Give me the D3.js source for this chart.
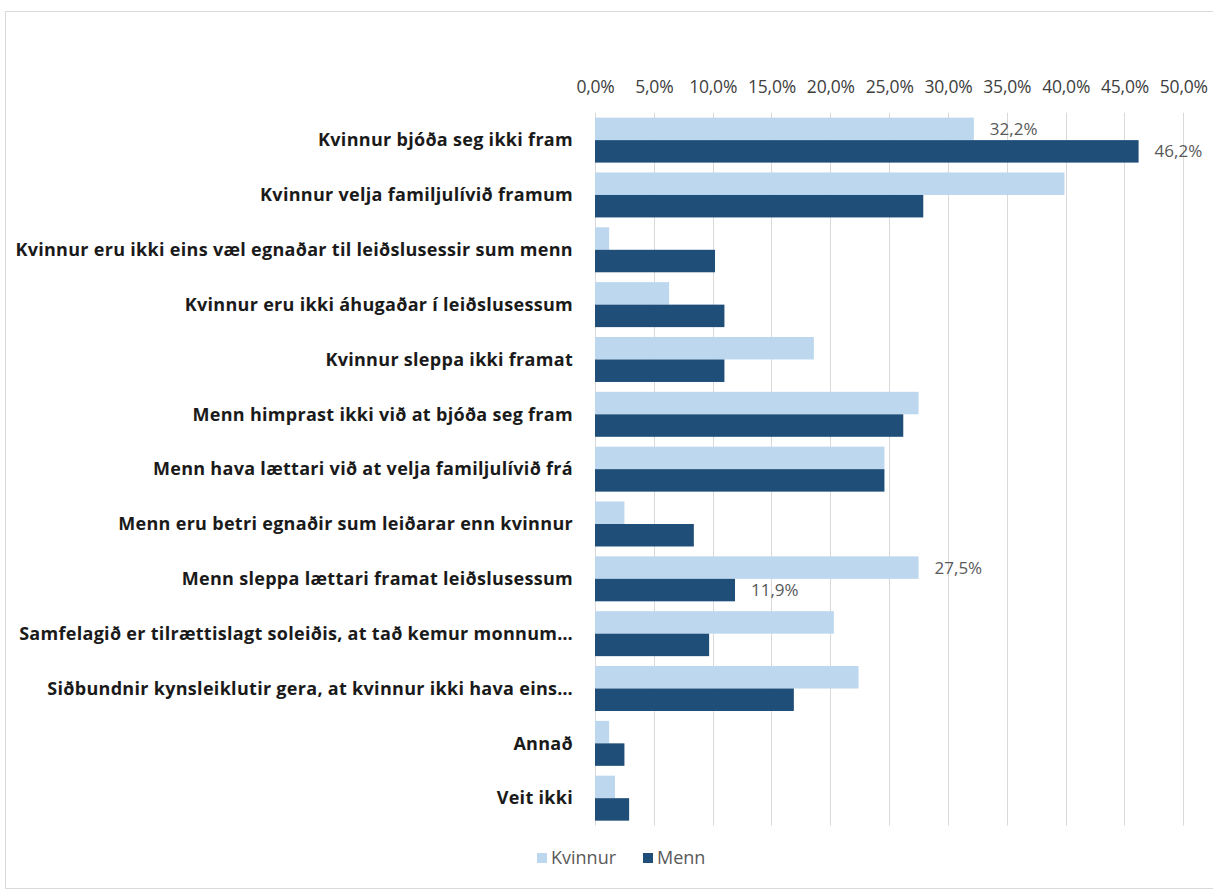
<!DOCTYPE html>
<html>
<head>
<meta charset="utf-8">
<script src="https://cdn.jsdelivr.net/npm/d3@7"></script>
<style>
  html, body { margin: 0; padding: 0; background: #fff; }
  svg { display: block; }
</style>
</head>
<body>
<svg id="chart" width="1213" height="891"></svg>
<script>
const categories = [
  "Kvinnur bjóða seg ikki fram",
  "Kvinnur velja familjulívið framum",
  "Kvinnur eru ikki eins væl egnaðar til leiðslusessir sum menn",
  "Kvinnur eru ikki áhugaðar í leiðslusessum",
  "Kvinnur sleppa ikki framat",
  "Menn himprast ikki við at bjóða seg fram",
  "Menn hava lættari við at velja familjulívið frá",
  "Menn eru betri egnaðir sum leiðarar enn kvinnur",
  "Menn sleppa lættari framat leiðslusessum",
  "Samfelagið er tilrættislagt soleiðis, at tað kemur monnum…",
  "Siðbundnir kynsleiklutir gera, at kvinnur ikki hava eins…",
  "Annað",
  "Veit ikki"
];
const seriesNames = ["Kvinnur", "Menn"];
const kvinnur = [32.2, 39.9, 1.2, 6.3, 18.6, 27.5, 24.6, 2.5, 27.5, 20.3, 22.4, 1.2, 1.7];
const menn    = [46.2, 27.9, 10.2, 11.0, 11.0, 26.2, 24.6, 8.4, 11.9, 9.7, 16.9, 2.5, 2.9];
const tickValues = [0, 5, 10, 15, 20, 25, 30, 35, 40, 45, 50];
// data labels shown in the original: [categoryIndex, seriesIndex]
const shownLabels = [[0, 0], [0, 1], [8, 0], [8, 1]];
const colors = ["#BDD7EE", "#1F4E79"];

const svg = d3.select("#chart");
const font = "'Open Sans', Lato, sans-serif";

// frame
svg.append("rect")
  .attr("x", 5.5).attr("y", 11.5)
  .attr("width", 1300).attr("height", 877)
  .attr("fill", "#fff").attr("stroke", "#d9d9d9").attr("stroke-width", 1);

const plot = { left: 595, right: 1183.3, top: 112.7, bottom: 825.6 };

const x = d3.scaleLinear().domain([0, 50]).range([plot.left, plot.right]);
const y = d3.scaleBand().domain(categories).range([plot.top, plot.bottom])
  .paddingInner(0.18).paddingOuter(0.09);
const ySub = d3.scaleBand().domain(seriesNames).range([0, y.bandwidth()]);

// gridlines
svg.append("g").selectAll("line").data(tickValues).join("line")
  .attr("x1", d => Math.round(x(d)) + 0.5).attr("x2", d => Math.round(x(d)) + 0.5)
  .attr("y1", plot.top).attr("y2", plot.bottom)
  .attr("stroke", "#d9d9d9").attr("stroke-width", 1);

// top axis labels
const fmt = d => d.toFixed(1).replace(".", ",") + "%";
const xAxis = d3.axisTop(x).tickValues(tickValues).tickFormat(fmt).tickSize(0).tickPadding(0);
const gx = svg.append("g").attr("transform", "translate(0,93)").call(xAxis);
gx.select(".domain").remove();
gx.selectAll("text")
  .attr("font-family", font).attr("font-size", 17.5).attr("fill", "#404040")
  .attr("letter-spacing", -0.2);

// bars
const data = categories.map((c, i) => ({ cat: c, i, vals: [kvinnur[i], menn[i]] }));
const groups = svg.append("g").selectAll("g").data(data).join("g")
  .attr("transform", d => `translate(0,${y(d.cat)})`);
groups.selectAll("rect").data(d => d.vals.map((v, s) => ({ v, s }))).join("rect")
  .attr("x", x(0))
  .attr("y", d => ySub(seriesNames[d.s]))
  .attr("width", d => x(d.v) - x(0))
  .attr("height", ySub.bandwidth())
  .attr("fill", d => colors[d.s]);

// category labels
svg.append("g").selectAll("text").data(categories).join("text")
  .attr("x", 573)
  .attr("y", d => y(d) + y.bandwidth() / 2)
  .attr("dy", "0.35em")
  .attr("text-anchor", "end")
  .attr("font-family", font).attr("font-weight", "bold").attr("font-size", 18)
  .attr("letter-spacing", 0.3)
  .attr("fill", "#1a1a1a")
  .text(d => d);

// data labels
svg.append("g").selectAll("text").data(shownLabels).join("text")
  .attr("x", d => x(d[1] === 0 ? kvinnur[d[0]] : menn[d[0]]) + 16)
  .attr("y", d => y(categories[d[0]]) + ySub(seriesNames[d[1]]) + ySub.bandwidth() / 2)
  .attr("dy", "0.35em")
  .attr("font-family", font).attr("font-size", 17).attr("fill", "#595959")
  .text(d => fmt(d[1] === 0 ? kvinnur[d[0]] : menn[d[0]]));

// legend
const legendX = [537, 643];
const lg = svg.append("g").selectAll("g").data(seriesNames).join("g")
  .attr("transform", (d, i) => `translate(${legendX[i]},858)`);
lg.append("rect").attr("x", 0).attr("y", -5).attr("width", 10).attr("height", 10)
  .attr("fill", (d, i) => colors[i]);
lg.append("text").attr("x", 14).attr("y", 0).attr("dy", "0.35em")
  .attr("font-family", font).attr("font-size", 18).attr("fill", "#595959")
  .text(d => d);
</script>
</body>
</html>
